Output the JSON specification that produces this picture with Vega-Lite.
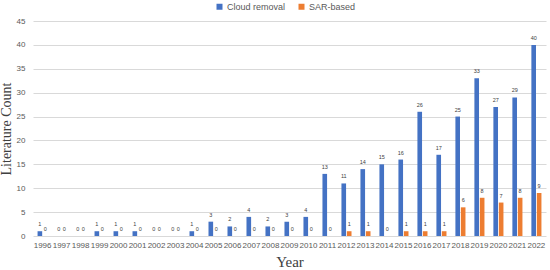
{
  "$schema": "https://vega.github.io/schema/vega-lite/v6.json",
  "autosize": "none",
  "width": 513,
  "height": 215,
  "padding": {"left": 33, "top": 21, "right": 4, "bottom": 34},
  "background": "white",
  "config": {"view": {"stroke": null}},
  "data": {"values": [
    {"Year": "1996", "Series": "Cloud removal", "Count": 1}, {"Year": "1996", "Series": "SAR-based", "Count": 0},
    {"Year": "1997", "Series": "Cloud removal", "Count": 0}, {"Year": "1997", "Series": "SAR-based", "Count": 0},
    {"Year": "1998", "Series": "Cloud removal", "Count": 0}, {"Year": "1998", "Series": "SAR-based", "Count": 0},
    {"Year": "1999", "Series": "Cloud removal", "Count": 1}, {"Year": "1999", "Series": "SAR-based", "Count": 0},
    {"Year": "2000", "Series": "Cloud removal", "Count": 1}, {"Year": "2000", "Series": "SAR-based", "Count": 0},
    {"Year": "2001", "Series": "Cloud removal", "Count": 1}, {"Year": "2001", "Series": "SAR-based", "Count": 0},
    {"Year": "2002", "Series": "Cloud removal", "Count": 0}, {"Year": "2002", "Series": "SAR-based", "Count": 0},
    {"Year": "2003", "Series": "Cloud removal", "Count": 0}, {"Year": "2003", "Series": "SAR-based", "Count": 0},
    {"Year": "2004", "Series": "Cloud removal", "Count": 1}, {"Year": "2004", "Series": "SAR-based", "Count": 0},
    {"Year": "2005", "Series": "Cloud removal", "Count": 3}, {"Year": "2005", "Series": "SAR-based", "Count": 0},
    {"Year": "2006", "Series": "Cloud removal", "Count": 2}, {"Year": "2006", "Series": "SAR-based", "Count": 0},
    {"Year": "2007", "Series": "Cloud removal", "Count": 4}, {"Year": "2007", "Series": "SAR-based", "Count": 0},
    {"Year": "2008", "Series": "Cloud removal", "Count": 2}, {"Year": "2008", "Series": "SAR-based", "Count": 0},
    {"Year": "2009", "Series": "Cloud removal", "Count": 3}, {"Year": "2009", "Series": "SAR-based", "Count": 0},
    {"Year": "2010", "Series": "Cloud removal", "Count": 4}, {"Year": "2010", "Series": "SAR-based", "Count": 0},
    {"Year": "2011", "Series": "Cloud removal", "Count": 13}, {"Year": "2011", "Series": "SAR-based", "Count": 0},
    {"Year": "2012", "Series": "Cloud removal", "Count": 11}, {"Year": "2012", "Series": "SAR-based", "Count": 1},
    {"Year": "2013", "Series": "Cloud removal", "Count": 14}, {"Year": "2013", "Series": "SAR-based", "Count": 1},
    {"Year": "2014", "Series": "Cloud removal", "Count": 15}, {"Year": "2014", "Series": "SAR-based", "Count": 0},
    {"Year": "2015", "Series": "Cloud removal", "Count": 16}, {"Year": "2015", "Series": "SAR-based", "Count": 1},
    {"Year": "2016", "Series": "Cloud removal", "Count": 26}, {"Year": "2016", "Series": "SAR-based", "Count": 1},
    {"Year": "2017", "Series": "Cloud removal", "Count": 17}, {"Year": "2017", "Series": "SAR-based", "Count": 1},
    {"Year": "2018", "Series": "Cloud removal", "Count": 25}, {"Year": "2018", "Series": "SAR-based", "Count": 6},
    {"Year": "2019", "Series": "Cloud removal", "Count": 33}, {"Year": "2019", "Series": "SAR-based", "Count": 8},
    {"Year": "2020", "Series": "Cloud removal", "Count": 27}, {"Year": "2020", "Series": "SAR-based", "Count": 7},
    {"Year": "2021", "Series": "Cloud removal", "Count": 29}, {"Year": "2021", "Series": "SAR-based", "Count": 8},
    {"Year": "2022", "Series": "Cloud removal", "Count": 40}, {"Year": "2022", "Series": "SAR-based", "Count": 9}
  ]},
  "encoding": {
    "x": {
      "field": "Year", "type": "ordinal",
      "scale": {"paddingInner": 0.47, "paddingOuter": 0.24},
      "axis": {
        "labelAngle": 0, "labelFontSize": 8, "labelColor": "#595959", "labelFont": "Liberation Sans",
        "labelPadding": 5, "domain": false, "ticks": false,
        "title": "Year", "titleFont": "Liberation Serif", "titleFontSize": 15, "titleFontWeight": "normal",
        "titleColor": "#404040", "titlePadding": 5
      }
    },
    "xOffset": {"field": "Series", "type": "nominal", "scale": {"paddingInner": 0.15}},
    "y": {
      "field": "Count", "type": "quantitative",
      "scale": {"domain": [0, 45], "nice": false},
      "axis": {
        "values": [0, 5, 10, 15, 20, 25, 30, 35, 40, 45],
        "labelFontSize": 8, "labelColor": "#595959", "labelFont": "Liberation Sans", "labelPadding": 8,
        "domain": false, "ticks": false, "gridColor": "#d9d9d9", "gridWidth": 1,
        "title": "Literature Count", "titleFont": "Liberation Serif", "titleFontSize": 14,
        "titleFontWeight": "normal", "titleColor": "#404040", "titlePadding": 3
      }
    }
  },
  "layer": [
    {
      "mark": {"type": "bar"},
      "encoding": {
        "color": {
          "field": "Series", "type": "nominal",
          "scale": {"domain": ["Cloud removal", "SAR-based"], "range": ["#4472C4", "#ED7D31"]},
          "legend": {
            "title": null, "orient": "none", "direction": "horizontal",
            "legendX": 182, "legendY": -19,
            "symbolType": "square", "symbolSize": 36, "symbolStrokeWidth": 0,
            "labelFontSize": 9, "labelColor": "#595959", "labelFont": "Liberation Sans",
            "labelOffset": 3, "columnPadding": 11
          }
        }
      }
    },
    {
      "mark": {"type": "text", "dy": -4, "baseline": "bottom", "fontSize": 5.5, "color": "#404040", "font": "Liberation Sans"},
      "encoding": {"text": {"field": "Count", "type": "quantitative"}}
    }
  ]
}
